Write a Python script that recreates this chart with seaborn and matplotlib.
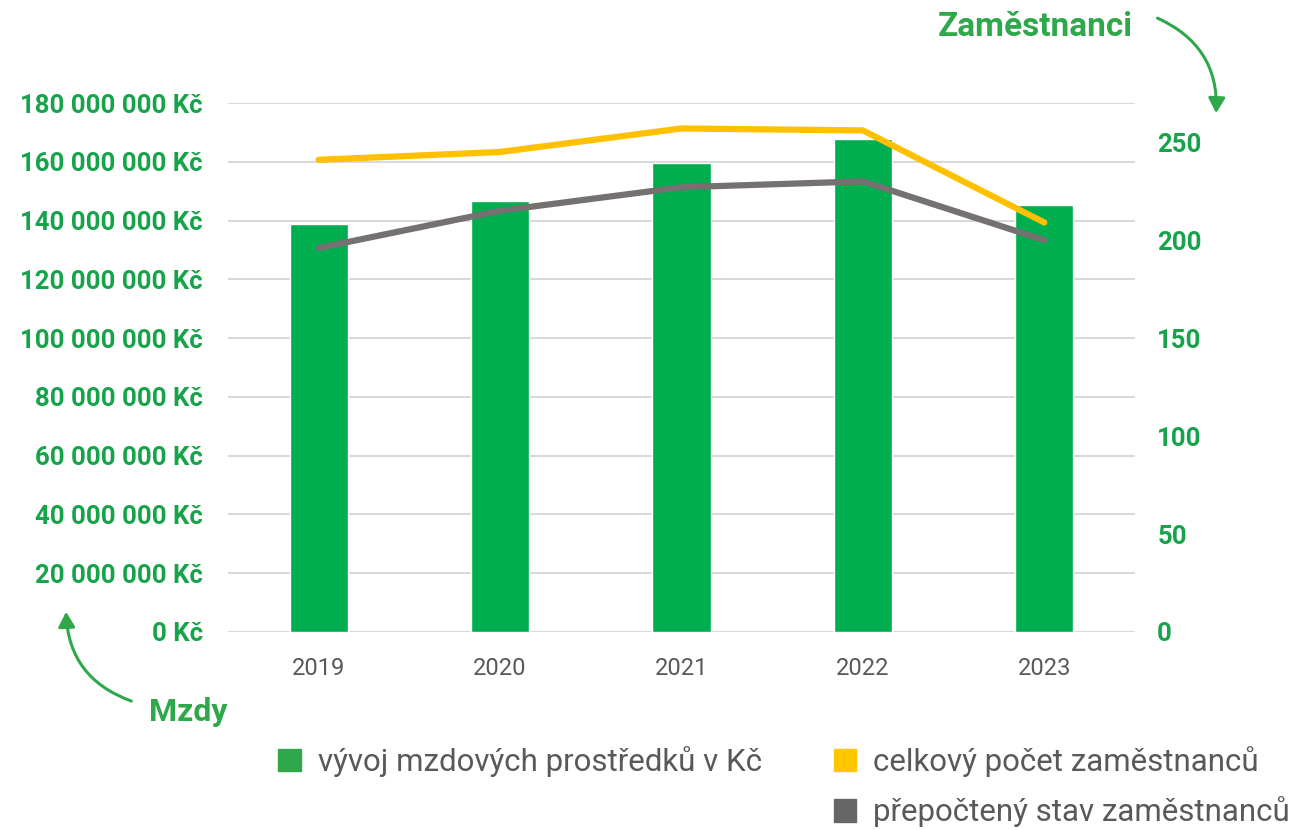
import matplotlib
matplotlib.use("Agg")
import matplotlib.pyplot as plt
import seaborn as sns
import pandas as pd
from matplotlib.patches import Patch, FancyArrowPatch
from matplotlib.ticker import FuncFormatter

# data
years = ["2019", "2020", "2021", "2022", "2023"]
mzdy = [138.8e6, 146.6e6, 159.6e6, 167.7e6, 145.3e6]        # Kč
celkovy_pocet = [241, 245, 257, 256, 209]                    # employees total
prepocteny_stav = [196, 215, 227, 230, 200]                  # FTE

left_ticks = list(range(0, 180_000_001, 20_000_000))
right_ticks = [0, 50, 100, 150, 200, 250]

GREEN_BAR = "#00AD4F"
GREEN_TXT = "#17A34A"
GREEN_LEG = "#2EA84A"
YELLOW = "#FFC000"
GRAY = "#767171"
TEXT_GRAY = "#595959"

sns.set_theme(style="white")
plt.rcParams["font.family"] = ["Roboto", "DejaVu Sans"]

df = pd.DataFrame({"rok": years, "mzdy": mzdy,
                   "celkem": celkovy_pocet, "prepocet": prepocteny_stav})

fig = plt.figure(figsize=(12.93, 8.30), dpi=100)
ax = fig.add_axes([0.1763, 0.2386, 0.7015, 0.6373])

sns.barplot(data=df, x="rok", y="mzdy", color=GREEN_BAR, width=0.32,
            saturation=1, ax=ax, zorder=2)
ax.set_ylim(0, 180_000_000)
ax.set_yticks(left_ticks)
ax.yaxis.set_major_formatter(FuncFormatter(
    lambda v, p: f"{int(v):,}".replace(",", " ") + " Kč"))
ax.grid(axis="y", color="#D9D9D9", linewidth=1.5, zorder=0)
ax.set_axisbelow(True)
ax.set_xlabel("")
ax.set_ylabel("")
for s in ax.spines.values():
    s.set_visible(False)
ax.tick_params(axis="y", length=0, pad=18, labelsize=18.5, labelcolor=GREEN_TXT)
ax.tick_params(axis="x", length=0, pad=18, labelsize=17, labelcolor=TEXT_GRAY)
for t in ax.get_yticklabels():
    t.set_fontweight("bold")

ax2 = ax.twinx()
sns.lineplot(data=df, x="rok", y="celkem", color=YELLOW, linewidth=4.5,
             solid_capstyle="round", ax=ax2, zorder=3)
sns.lineplot(data=df, x="rok", y="prepocet", color=GRAY, linewidth=4.5,
             solid_capstyle="round", ax=ax2, zorder=3)
ax2.set_ylim(0, 270)
ax2.set_yticks(right_ticks)
ax2.set_ylabel("")
ax2.grid(False)
for s in ax2.spines.values():
    s.set_visible(False)
ax2.tick_params(axis="y", length=0, pad=16, labelsize=18.5, labelcolor=GREEN_TXT)
for t in ax2.get_yticklabels():
    t.set_fontweight("bold")
ax.set_xlim(-0.5, 4.5)

# axis titles with curved arrows
fig.text(1133 / 1293, 1 - 27 / 830, "Zaměstnanci", ha="right", va="center",
         fontsize=24, fontweight="bold", color="#2EA84A")
fig.text(149 / 1293, 1 - 712 / 830, "Mzdy", ha="left", va="center",
         fontsize=23, fontweight="bold", color="#2EA84A")
fig.patches.append(FancyArrowPatch(
    (1155 / 1293, 1 - 17 / 830), (1216 / 1293, 1 - 116 / 830),
    transform=fig.transFigure, connectionstyle="arc3,rad=-0.35",
    arrowstyle="-|>,head_length=9,head_width=5", color="#2EA84A",
    linewidth=2.2, mutation_scale=1))
fig.patches.append(FancyArrowPatch(
    (134 / 1293, 1 - 702 / 830), (66 / 1293, 1 - 609 / 830),
    transform=fig.transFigure, connectionstyle="arc3,rad=-0.35",
    arrowstyle="-|>,head_length=9,head_width=5", color="#2EA84A",
    linewidth=2.2, mutation_scale=1))

# legend
handles = [Patch(color=GREEN_LEG), Patch(color="none"),
           Patch(color="#FFC600"), Patch(color="#666666")]
labels = ["vývoj mzdových prostředků v Kč", "",
          "celkový počet zaměstnanců", "přepočtený stav zaměstnanců"]
fig.legend(handles, labels, ncol=2, loc="upper left",
           bbox_to_anchor=(278 / 1293, 1 - 746 / 830), frameon=False,
           fontsize=22.5, labelcolor=TEXT_GRAY, handlelength=0.72,
           handleheight=0.72, handletextpad=0.55, columnspacing=2.3,
           labelspacing=0.62, borderpad=0, borderaxespad=0)

fig.savefig("out.png", dpi=100)
